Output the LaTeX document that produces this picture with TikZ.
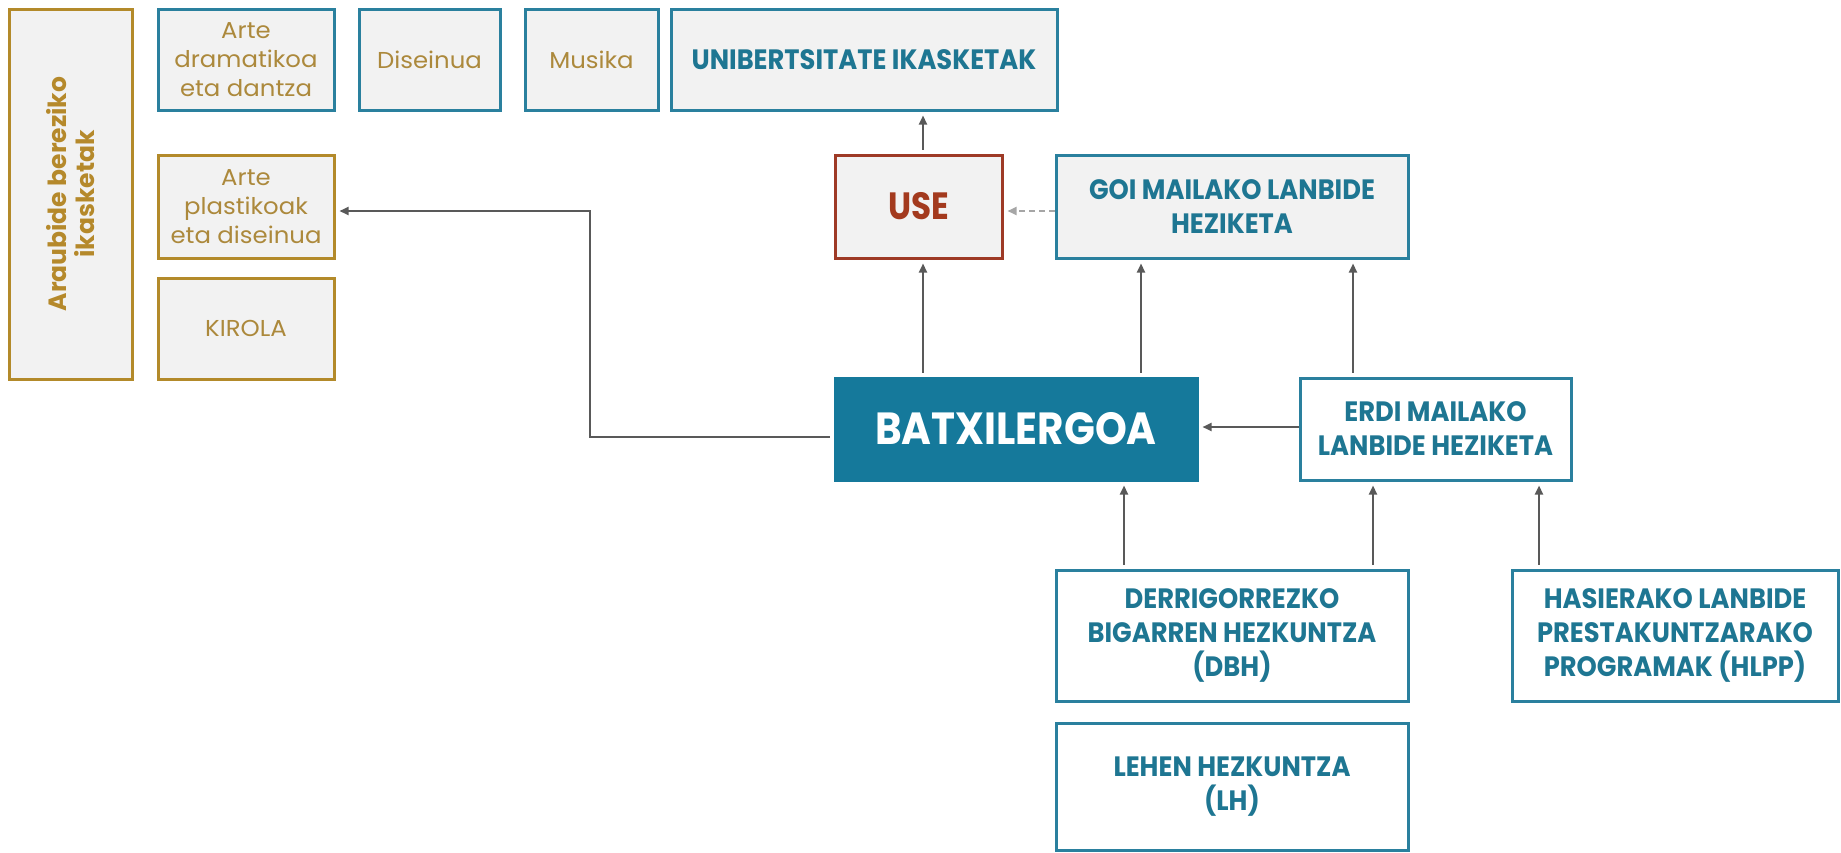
\documentclass[tikz,border=0pt]{standalone}
\usepackage{fontspec}
\setmainfont{Poppins}
\newfontfamily\hb{Poppins}[FakeStretch=0.92]
\newfontfamily\hbt{Poppins}[FakeStretch=0.9]
\newfontfamily\hbu{Poppins}[FakeStretch=0.86]
\newfontfamily\hbw{Poppins}
\newfontfamily\hreg{Poppins}[FakeStretch=1.06]
\usetikzlibrary{arrows.meta}
\definecolor{cblue}{HTML}{2A809E}
\definecolor{ctext}{HTML}{1E7692}
\definecolor{cfill}{HTML}{15799B}
\definecolor{cgoldb}{HTML}{B38A2A}
\definecolor{cgold}{HTML}{AC893C}
\definecolor{cgoldt}{HTML}{B5892B}
\definecolor{cgray}{HTML}{F2F2F2}
\definecolor{cred}{HTML}{9E3A26}
\definecolor{credt}{HTML}{A33A1E}
\definecolor{carr}{HTML}{595959}
\definecolor{cdash}{HTML}{A6A6A6}
\begin{document}
\begin{tikzpicture}[x=1pt,y=-1pt,
  base/.style={draw, line width=3pt, inner sep=0pt, align=center},
  smallblue/.style={base, draw=cblue, fill=cgray, text=cgold, font=\hreg\fontsize{23}{29}\selectfont},
  smallgold/.style={base, draw=cgoldb, fill=cgray, text=cgold, font=\hreg\fontsize{23}{29}\selectfont},
  headbox/.style={base, draw=cblue, fill=cgray, text=ctext, font=\hb\bfseries\fontsize{28}{34}\selectfont},
  whitebox/.style={headbox, fill=white},
  arr/.style={draw=carr, line width=2pt, -{Triangle[length=9pt,width=8pt]}, shorten <=4pt, shorten >=4pt},
  dasharr/.style={arr, draw=cdash, dash pattern=on 6pt off 4pt}
]
\useasboundingbox (0,0) rectangle (1841,852);
% left column
\node[base, draw=cgoldb, fill=cgray, text=cgoldt, rotate=90, minimum width=370pt, minimum height=123pt,
  font=\hbw\bfseries\fontsize{25}{28}\selectfont] (arau) at (70.5,194) {Araubide bereziko\\ikasketak};
\node[smallblue, minimum width=176pt, minimum height=101pt] (artedram) at (246,59.5) {Arte\\dramatikoa\\eta dantza};
\node[smallblue, minimum width=141pt, minimum height=101pt] (dis) at (429.5,59.5) {Diseinua};
\node[smallblue, minimum width=133pt, minimum height=101pt] (mus) at (591.5,59.5) {Musika};
\node[headbox, minimum width=386pt, minimum height=101pt] (unib) at (864,59.5) {UNIBERTSITATE IKASKETAK};
\node[smallgold, minimum width=176pt, minimum height=103pt] (arteplast) at (246,206.5) {Arte\\plastikoak\\eta diseinua};
\node[smallgold, minimum width=176pt, minimum height=101pt] (kirola) at (246,328.5) {KIROLA};
% middle
\node[base, draw=cred, fill=cgray, text=credt, minimum width=167pt, minimum height=103pt,
  font=\hbu\bfseries\fontsize{38}{40}\selectfont] (use) at (918.5,206.5) {USE};
\node[headbox, minimum width=352pt, minimum height=103pt] (goi) at (1232,206.5) {GOI MAILAKO LANBIDE\\HEZIKETA};
\node[base, draw=cfill, fill=cfill, text=white, minimum width=362pt, minimum height=102pt,
  font=\hbt\bfseries\fontsize{45}{50}\selectfont] (batx) at (1016,429) {BATXILERGOA};
\node[whitebox, minimum width=271pt, minimum height=102pt] (erdi) at (1435.5,429) {ERDI MAILAKO\\LANBIDE HEZIKETA};
\node[whitebox, minimum width=352pt, minimum height=131pt] (dbh) at (1232,635.5) {DERRIGORREZKO\\BIGARREN HEZKUNTZA\\(DBH)};
\node[whitebox, minimum width=326pt, minimum height=131pt] (hlpp) at (1675,635.5) {HASIERAKO LANBIDE\\PRESTAKUNTZARAKO\\PROGRAMAK (HLPP)};
\node[whitebox, minimum width=352pt, minimum height=127pt] (lh) at (1232,786.5) {LEHEN HEZKUNTZA\\(LH)};
% helper coordinates
\coordinate (c923) at (923,0);
\coordinate (c1141) at (1141,0);
\coordinate (c1353) at (1353,0);
\coordinate (c1124) at (1124,0);
\coordinate (c1373) at (1373,0);
\coordinate (c1539) at (1539,0);
\coordinate (bend) at (590,0);
\coordinate (bs) at ([yshift=-8pt]batx.west);
\coordinate (pe) at ([yshift=-4.5pt]arteplast.east);
\coordinate (ge) at ([yshift=-4.5pt]goi.west);
\coordinate (ee) at ([yshift=2pt]erdi.west);
% connectors
\draw[arr] (use.north -| c923) -- (unib.south -| c923);
\draw[arr] (batx.north -| c923) -- (use.south -| c923);
\draw[arr] (batx.north -| c1141) -- (goi.south -| c1141);
\draw[arr] (erdi.north -| c1353) -- (goi.south -| c1353);
\draw[dasharr, shorten <=0pt] (ge) -- (use.east |- ge);
\draw[arr, shorten <=0pt] (ee) -- (batx.east |- ee);
\draw[arr] (bs) -| (bend |- pe) -- (pe);
\draw[arr] (dbh.north -| c1124) -- (batx.south -| c1124);
\draw[arr] (dbh.north -| c1373) -- (erdi.south -| c1373);
\draw[arr] (hlpp.north -| c1539) -- (erdi.south -| c1539);
\end{tikzpicture}
\end{document}
